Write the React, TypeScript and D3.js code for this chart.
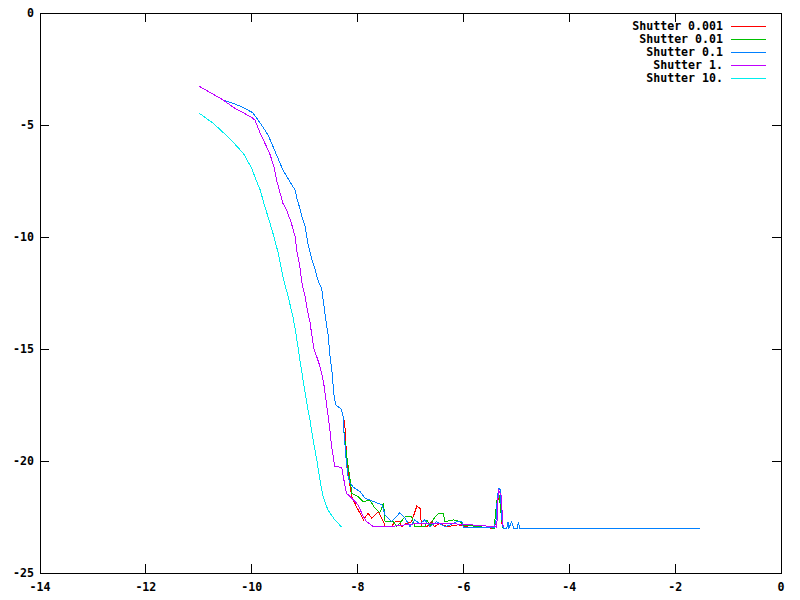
import React from "react";
import * as d3 from "d3";

type P = [number, number];

const xTicks = [-14, -12, -10, -8, -6, -4, -2, 0];
const yTicks = [-25, -20, -15, -10, -5, 0];
const seriesNames = ["Shutter 0.001", "Shutter 0.01", "Shutter 0.1", "Shutter 1.", "Shutter 10."];
const seriesColors = ["#ff0000", "#00c000", "#0080ff", "#c000ff", "#00eeee"];

// shared upper part of the three short-shutter curves
const mainHead: P[] = [
  [-11.0, -3.26], [-10.54, -3.88], [-10.22, -4.15], [-9.98, -4.45], [-9.84, -4.91],
  [-9.69, -5.45], [-9.53, -6.34], [-9.41, -7.01], [-9.28, -7.53], [-9.18, -7.9],
  [-9.14, -8.35], [-9.09, -8.71], [-9.06, -9.02], [-8.99, -9.54], [-8.94, -10.28],
  [-8.87, -10.95], [-8.8, -11.47], [-8.74, -12.0], [-8.68, -12.29], [-8.65, -12.81],
  [-8.6, -13.71], [-8.56, -14.3], [-8.52, -15.34], [-8.48, -16.08], [-8.46, -16.68],
  [-8.44, -17.2], [-8.41, -17.5], [-8.31, -17.68], [-8.27, -18.02],
];

const redTail: P[] = [
  [-8.24, -18.39], [-8.21, -19.73], [-8.16, -20.85], [-8.11, -21.59], [-8.02, -22.04],
  [-7.92, -22.49], [-7.89, -22.63], [-7.8, -22.33], [-7.73, -22.56], [-7.61, -22.26],
  [-7.51, -22.71], [-7.48, -22.93], [-7.36, -22.93], [-7.29, -22.71], [-7.2, -22.71],
  [-7.17, -22.93], [-7.07, -22.78], [-6.98, -22.71], [-6.88, -22.01], [-6.82, -22.11],
  [-6.79, -22.93], [-6.69, -22.93], [-6.6, -22.7], [-6.55, -22.93], [-6.45, -22.8],
  [-6.3, -22.93], [-6.1, -22.85], [-5.9, -22.95], [-5.42, -23.0], [-5.37, -22.5],
  [-5.34, -21.5], [-5.31, -21.6], [-5.28, -22.7], [-5.25, -23.0],
];

const greenTail: P[] = [
  [-8.26, -18.62], [-8.22, -19.5], [-8.14, -20.85], [-8.11, -21.44], [-7.99, -21.59],
  [-7.89, -21.82], [-7.77, -21.74], [-7.67, -22.11], [-7.58, -22.31], [-7.51, -21.89],
  [-7.48, -22.71], [-7.32, -22.71], [-7.26, -22.93], [-7.1, -22.49], [-6.98, -22.49],
  [-6.92, -22.93], [-6.73, -22.93], [-6.69, -22.63], [-6.63, -22.93], [-6.57, -22.6],
  [-6.47, -22.33], [-6.38, -22.33], [-6.35, -22.71], [-6.19, -22.63], [-6.06, -22.71],
  [-6.0, -22.86], [-5.42, -23.0], [-5.4, -22.5], [-5.36, -21.6], [-5.33, -21.5],
  [-5.3, -22.0], [-5.28, -22.6], [-5.25, -23.0],
];

const blueTail: P[] = [
  [-8.26, -18.62], [-8.24, -19.21], [-8.21, -20.1], [-8.18, -20.7], [-8.14, -20.99],
  [-8.08, -21.17], [-7.95, -21.37], [-7.86, -21.66], [-7.77, -21.74], [-7.54, -21.96],
  [-7.48, -22.41], [-7.36, -22.71], [-7.2, -22.31], [-7.1, -22.56], [-7.01, -22.93],
  [-6.92, -22.63], [-6.82, -22.81], [-6.73, -22.63], [-6.63, -22.93], [-6.51, -22.71],
  [-6.35, -22.93], [-6.25, -22.86], [-6.13, -22.71], [-6.03, -22.71], [-6.0, -22.95],
  [-5.42, -22.98], [-5.38, -22.6], [-5.36, -21.59], [-5.33, -21.22], [-5.3, -21.29],
  [-5.28, -22.49], [-5.25, -23.0], [-5.18, -23.0], [-5.16, -22.71], [-5.14, -23.0],
  [-5.09, -22.71], [-5.05, -23.0], [-4.98, -23.0], [-4.96, -22.71], [-4.94, -23.0],
  [-1.53, -23.0],
];

const purpleSeries: P[] = [
  [-11.0, -3.26], [-10.54, -3.88], [-10.35, -4.21], [-10.0, -4.66], [-9.94, -4.78],
  [-9.84, -5.37], [-9.72, -5.97], [-9.65, -6.34], [-9.58, -6.86], [-9.53, -7.46],
  [-9.47, -7.98], [-9.41, -8.5], [-9.34, -8.79], [-9.25, -9.39], [-9.18, -9.99],
  [-9.14, -10.73], [-9.09, -11.33], [-9.05, -12.07], [-8.99, -12.67], [-8.95, -13.26],
  [-8.9, -13.78], [-8.87, -14.3], [-8.82, -15.04], [-8.76, -15.42], [-8.7, -15.86],
  [-8.66, -16.31], [-8.63, -16.68], [-8.58, -17.58], [-8.53, -18.47], [-8.49, -19.36],
  [-8.43, -20.25], [-8.3, -20.28], [-8.27, -20.7], [-8.21, -21.44], [-8.11, -21.66],
  [-7.99, -21.96], [-7.89, -22.49], [-7.83, -22.71], [-7.7, -22.93], [-7.4, -22.93],
  [-7.1, -22.85], [-6.9, -22.8], [-6.5, -22.78], [-6.2, -22.8], [-5.8, -22.86],
  [-5.42, -22.93], [-5.37, -22.95], [-5.34, -21.3], [-5.29, -21.5], [-5.25, -22.95],
];

const cyanSeries: P[] = [
  [-11.0, -4.46], [-10.73, -4.92], [-10.42, -5.59], [-10.16, -6.26], [-10.0, -6.93],
  [-9.94, -7.32], [-9.84, -7.9], [-9.75, -8.66], [-9.69, -9.11], [-9.6, -9.82],
  [-9.5, -10.71], [-9.41, -11.79], [-9.31, -12.68], [-9.22, -13.57], [-9.16, -14.38],
  [-9.09, -15.49], [-9.03, -16.38], [-8.96, -17.41], [-8.9, -18.17], [-8.84, -19.06],
  [-8.77, -19.96], [-8.71, -20.85], [-8.65, -21.61], [-8.56, -22.19], [-8.43, -22.63],
  [-8.3, -22.95],
];

const allSeries: P[][] = [
  [...mainHead, ...redTail],
  [...mainHead, ...greenTail],
  [...mainHead, ...blueTail],
  purpleSeries,
  cyanSeries,
];

const W = 800, H = 600;
const L = 40, R = 781, T = 13, B = 573;
const TICK = 9;
const FONT = "'DejaVu Sans Mono', 'Liberation Mono', monospace";

export default function App() {
  const x = d3.scaleLinear().domain([-14, 0]).range([L, R]);
  const y = d3.scaleLinear().domain([-25, 0]).range([B, T]);
  const line = d3.line<P>().x((d) => x(d[0])).y((d) => y(d[1]));

  return (
    <svg width={W} height={H} style={{ position: "absolute", left: 0, top: 0, background: "#fff" }}>
      <rect x={0} y={0} width={W} height={H} fill="#fff" />
      {/* ticks */}
      <g stroke="#000" strokeWidth={1} shapeRendering="crispEdges">
        {xTicks.map((t) => (
          <g key={"xt" + t}>
            <line x1={x(t)} x2={x(t)} y1={B} y2={B - TICK} />
            <line x1={x(t)} x2={x(t)} y1={T} y2={T + TICK} />
          </g>
        ))}
        {yTicks.map((t) => (
          <g key={"yt" + t}>
            <line x1={L} x2={L + TICK} y1={y(t)} y2={y(t)} />
            <line x1={R} x2={R - TICK} y1={y(t)} y2={y(t)} />
          </g>
        ))}
      </g>
      <g fontFamily={FONT} fontSize={11.6} fontWeight="bold" fill="#000">
        {xTicks.map((t) => (
          <text key={"xl" + t} x={x(t)} y={B + 18} textAnchor="middle">{t}</text>
        ))}
        {yTicks.map((t) => (
          <text key={"yl" + t} x={L - 6} y={y(t) + 4} textAnchor="end">{t}</text>
        ))}
      </g>
      {/* series */}
      <g fill="none" strokeWidth={1} shapeRendering="crispEdges">
        {allSeries.map((s, i) => (
          <path key={"s" + i} d={line(s) || ""} stroke={seriesColors[i]} />
        ))}
      </g>
      {/* legend */}
      <g fontFamily={FONT} fontSize={11.6} fontWeight="bold">
        {seriesNames.map((n, i) => {
          const cy = 26 + i * 13;
          return (
            <g key={"lg" + i}>
              <text x={723} y={cy + 4} textAnchor="end" fill="#000">{n}</text>
              <line x1={731} x2={766} y1={cy} y2={cy} stroke={seriesColors[i]} strokeWidth={1} shapeRendering="crispEdges" />
            </g>
          );
        })}
      </g>
      <rect x={L} y={T} width={R - L} height={B - T} fill="none" stroke="#000" strokeWidth={1} shapeRendering="crispEdges" />
    </svg>
  );
}
